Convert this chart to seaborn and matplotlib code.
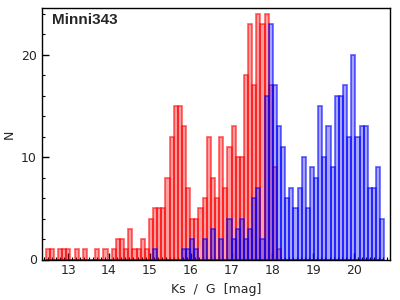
import numpy as np
import pandas as pd
import matplotlib
matplotlib.use("Agg")
import matplotlib.pyplot as plt
import seaborn as sns
from matplotlib.ticker import MultipleLocator

# ==========================================
# Data (counts per magnitude bin)
# ==========================================

bin_lo = 12.45
bin_hi = 20.74
n_bins = 82

# Ks counts, first 57 bins
ks_counts = [1, 1, 0, 1, 1, 1, 0, 1, 0, 1,
             0, 0, 1, 0, 1, 0, 1, 2, 2, 1,
             3, 1, 1, 2, 1, 4, 5, 5, 5, 8,
             12, 15, 15, 13, 7, 4, 4, 5, 6, 12,
             8, 6, 12, 7, 11, 13, 10, 10, 18, 23,
             17, 24, 23, 24, 17, 9, 1]

# G counts, starting at bin 26
g_start = 26
g_counts = [1, 0, 0, 0, 0, 0, 0, 1, 1, 2,
            1, 0, 2, 0, 3, 0, 2, 0, 4, 2,
            3, 4, 2, 3, 6, 7, 2, 16, 23, 17,
            13, 11, 6, 7, 5, 7, 10, 5, 9, 8,
            15, 10, 13, 9, 16, 16, 17, 12, 20, 12,
            13, 13, 7, 7, 9, 4]

label = "Minni343"

# ==========================================
# Build tables (one row per star, at its bin centre)
# ==========================================

edges = list(np.linspace(bin_lo, bin_hi, n_bins + 1))
centers = [0.5 * (a + b) for a, b in zip(edges[:-1], edges[1:])]

ks_mag = np.repeat(centers[:len(ks_counts)], ks_counts)
g_mag = np.repeat(centers[g_start:g_start + len(g_counts)], g_counts)

ks_df = pd.DataFrame({"mag": ks_mag})
g_df = pd.DataFrame({"mag": g_mag})

# ==========================================
# Plot
# ==========================================

sns.set_style("ticks")
plt.rcParams["font.family"] = ["DejaVu Sans"]
plt.rcParams["xtick.direction"] = "in"
plt.rcParams["ytick.direction"] = "in"

fig, ax = plt.subplots(figsize=(4, 3), dpi=100)
fig.subplots_adjust(left=0.104, right=0.975, bottom=0.135, top=0.972)

sns.histplot(data=ks_df, x="mag", bins=edges, ax=ax,
             facecolor=(1, 0, 0, 0.38), edgecolor=(1, 0, 0, 0.6), linewidth=1.25)
sns.histplot(data=g_df, x="mag", bins=edges, ax=ax,
             facecolor=(0, 0, 1, 0.35), edgecolor=(0, 0, 1, 0.6), linewidth=1.25)

ax.set_xlim(12.35, 20.88)
ax.set_ylim(0, 24.5)
ax.xaxis.set_major_locator(MultipleLocator(1))
ax.xaxis.set_minor_locator(MultipleLocator(0.1))
ax.yaxis.set_major_locator(MultipleLocator(10))
ax.yaxis.set_minor_locator(MultipleLocator(2))
ax.tick_params(which="major", length=5, width=1, labelsize=9, color="black")
ax.tick_params(which="minor", length=2.5, width=0.8, color="black")

for side in ["top", "right", "bottom", "left"]:
    ax.spines[side].set_visible(True)
    ax.spines[side].set_color("black")
    ax.spines[side].set_linewidth(1)

ax.set_xlabel("Ks  /  G  [mag]", fontsize=9)
ax.set_ylabel("N", fontsize=9)

ax.text(0.03, 0.955, label, transform=ax.transAxes, fontsize=11,
        fontweight="bold", va="center", ha="left", family=["Liberation Sans"])

plt.savefig("out.png", dpi=100)
